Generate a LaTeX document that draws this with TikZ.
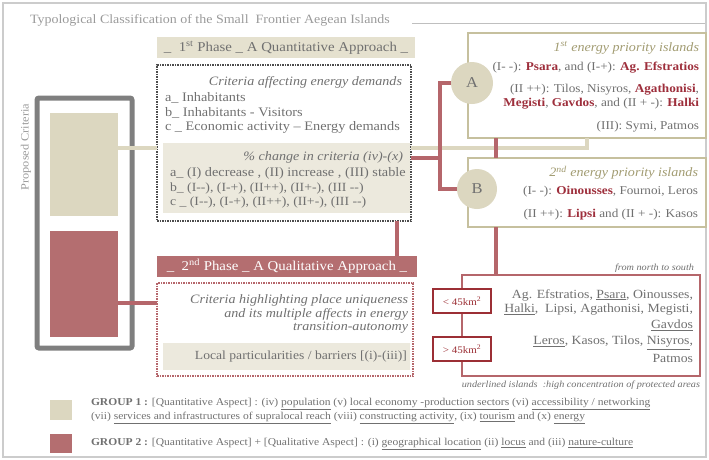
\documentclass[tikz,border=0pt]{standalone}
\usepackage{fontspec}
\setmainfont[FakeStretch=1.1]{Liberation Serif}
\definecolor{beige}{HTML}{DCD7C0}
\definecolor{beigehead}{HTML}{E5E1CF}
\definecolor{beigebox}{HTML}{ECE9DD}
\definecolor{olive}{HTML}{C6C09E}
\definecolor{olivetxt}{HTML}{A29C72}
\definecolor{redfill}{HTML}{B46E70}
\definecolor{redline}{HTML}{B5666B}
\definecolor{darkred}{HTML}{9C2F35}
\definecolor{txt}{HTML}{707070}
\definecolor{titlegray}{HTML}{9A9A9A}
\definecolor{redname}{HTML}{9E2F3C}
\definecolor{framegray}{HTML}{7F7F7F}
\newcommand\isl[1]{\textcolor{redname}{\textbf{#1}}}
\begin{document}
\begin{tikzpicture}[x=1pt,y=-1pt,
  every node/.style={inner sep=0pt,outer sep=0pt,text=txt},
  t13/.style={font=\fontsize{13}{15}\selectfont},
  t12/.style={font=\fontsize{12}{14}\selectfont},
  it13/.style={font=\fontsize{12.8}{15}\selectfont\itshape},
  it12/.style={font=\fontsize{12.8}{14}\selectfont\itshape,text=olivetxt},
  big/.style={font=\fontsize{12.5}{15}\selectfont},
  tiny/.style={font=\fontsize{9.3}{10}\selectfont\itshape},
  leg/.style={font=\fontsize{10.5}{12}\selectfont,anchor=west},
  beigeline/.style={draw=beige,line width=3.5pt},
  redconn/.style={draw=redline,line width=3.5pt},
  ibox/.style={draw=olive,line width=2pt,fill=white,anchor=north west},
  circ/.style={circle,fill=beige,minimum size=42pt,font=\fontsize{15}{15}\selectfont},
  kmbox/.style={draw=darkred,line width=2pt,fill=white,minimum width=58pt,minimum height=24pt,font=\fontsize{10}{10}\selectfont,text=darkred}
]
\useasboundingbox (0,0) rectangle (709,459);
\draw[draw=black!20,line width=1.2pt] (3,3) rectangle (706,457);
% title
\node[anchor=west,text=titlegray,font=\fontsize{12.7}{14}\selectfont] (title) at (30,20) {Typological Classification of the Small\ \ Frontier Aegean Islands};
\coordinate (tl1) at (412,23);
\coordinate (tl2) at (705,23);
\draw[black!25,line width=0.8pt] (tl1) -- (tl2);
% left column
\node[anchor=center,rotate=90,font=\fontsize{11.2}{13}\selectfont,text=titlegray] (pc) at (26,147) {Proposed Criteria};
\node[draw=framegray,line width=5pt,rounded corners=2pt,anchor=north west,minimum width=95pt,minimum height=250pt] (fr) at (37,98) {};
\node[fill=beige,anchor=north west,minimum width=68pt,minimum height=103pt] (g1) at (50,113) {};
\node[fill=redfill,anchor=north west,minimum width=68pt,minimum height=106pt] (g2) at (50,231) {};
% phase 1
\node[fill=beigehead,anchor=north west,minimum width=258pt,minimum height=21pt,font=\fontsize{13.5}{15}\selectfont] (p1) at (157,37) {\_\ \ 1\textsuperscript{st} Phase \_ A Quantitative Approach \_};
\node[draw=black!70,densely dotted,line width=1.5pt,anchor=north west,minimum width=254pt,minimum height=156pt] (d1) at (157,65) {};
\node[fill=beigebox,anchor=north west,minimum width=247pt,minimum height=70pt] (b1) at (163,143) {};
\node[it13,anchor=east] (c0) at (402,82) {Criteria affecting energy demands};
\node[t13,anchor=west] (c1) at (165,98) {a\_ Inhabitants};
\node[t13,anchor=west] (c2) at (165,113) {b\_ Inhabitants - Visitors};
\node[t13,anchor=west] (c3) at (165,127) {c \_ Economic activity -- Energy demands};
\node[it13,anchor=east] (e0) at (403,157) {\% change in criteria (iv)-(x)};
\node[t13,anchor=west] (e1) at (170,173) {a\_ (I) decrease , (II) increase , (III) stable};
\node[font=\fontsize{12.5}{15}\selectfont,anchor=west] (e2) at (170,188) {b\_ (I-{}-), (I-+), (II++), (II+-), (III -{}-)};
\node[font=\fontsize{12.5}{15}\selectfont,anchor=west] (e3) at (170,202) {c \_ (I-{}-), (I-+), (II++), (II+-), (III -{}-)};
% phase 2
\node[fill=redfill,anchor=north west,minimum width=260pt,minimum height=21pt,font=\fontsize{13.5}{15}\selectfont,text=white] (p2) at (157,256) {\_\ \ 2\textsuperscript{nd} Phase \_ A Qualitative Approach \_};
\node[draw=redline,densely dotted,line width=1.5pt,anchor=north west,minimum width=256pt,minimum height=93pt] (d2) at (157,283) {};
\node[fill=beigebox,anchor=north west,minimum width=247pt,minimum height=27pt] (b2) at (163,343) {};
\node[it13,anchor=east] (q1) at (408,300) {Criteria highlighting place uniqueness};
\node[it13,anchor=east] (q2) at (408,314) {and its multiple affects in energy};
\node[it13,anchor=east] (q3) at (408,328) {transition-autonomy};
\node[font=\fontsize{12.4}{15}\selectfont,anchor=east] (q4) at (407,357) {Local particularities / barriers [(i)-(iii)]};
% box A
\node[ibox,minimum width=238pt,minimum height=105pt] (boxA) at (468,33) {};
\node[it12,anchor=east] (a0) at (699,48) {1\textsuperscript{st} energy priority islands};
\node[t12,anchor=east] (a1) at (699,68) {(I- -): \isl{Psara}, and (I-+): \isl{Ag. Efstratios}};
\node[t12,anchor=east] (a2) at (699,90) {(II ++): Tilos, Nisyros, \isl{Agathonisi},};
\node[t12,anchor=east] (a3) at (699,104) {\isl{Megisti}, \isl{Gavdos}, and (II + -): \isl{Halki}};
\node[t12,anchor=east] (a4) at (699,127) {(III): Symi, Patmos};
\node[circ] (cA) at (472,83) {A};
% box B
\node[ibox,minimum width=238pt,minimum height=69pt] (boxB) at (468,158) {};
\node[it12,anchor=east] (b0) at (698,173) {2\textsuperscript{nd} energy priority islands};
\node[t12,anchor=east] (bb1) at (698,192) {(I- -): \isl{Oinousses}, Fournoi, Leros};
\node[t12,anchor=east] (bb2) at (698,215) {(II ++): \isl{Lipsi} and (II + -): Kasos};
\node[circ,minimum size=40pt] (cB) at (477,189) {B};
% big box
\node[tiny,anchor=east] (ns) at (694,268) {from north to south};
\node[draw=redline,line width=2pt,fill=white,anchor=north west,minimum width=238pt,minimum height=101pt] (big) at (462,275) {};
\node[big,anchor=east] (k1) at (693,295) {Ag. Efstratios, \underline{Psara}, Oinousses,};
\node[big,anchor=east] (k2) at (693,310) {\underline{Halki},\ \ Lipsi, Agathonisi, Megisti,};
\node[big,anchor=east] (k3) at (693,325) {\underline{Gavdos}};
\node[big,anchor=east] (k4) at (693,343) {\underline{Leros}, Kasos, Tilos, \underline{Nisyros},};
\node[big,anchor=east] (k5) at (693,358) {Patmos};
\node[kmbox] (s1) at (462,301) {< 45km\textsuperscript{2}};
\node[kmbox] (s2) at (462,349) {> 45km\textsuperscript{2}};
\node[tiny,anchor=east] (ul) at (700,385) {underlined islands\ \ :high concentration of protected areas};
% connectors
\draw[beigeline] ([yshift=16.5pt]g1.east) -- (d1.west |- 0,148);
\draw[beigeline] (d1.east |- 0,148) -| (boxA.south);
\draw[redconn] (g2.east |- 0,303) -- (d2.west |- 0,303);
\coordinate (jr) at (440,158);
\draw[redconn] (d1.east |- jr) -- (jr);
\draw[redconn] (cA.west) -| (jr |- cB.west) -- (cB.west);
\draw[redconn] (boxA.south -| 496,0) -- (boxB.north -| 496,0);
\draw[redconn] (d1.south -| 397,0) -- (p2.north -| 397,0);
\draw[redconn] (boxB.south -| 496,0) -- (big.north -| 496,0);
% legend
\node[fill=beige,anchor=north west,minimum width=22pt,minimum height=20pt] (lg1) at (50,400) {};
\node[fill=redfill,anchor=north west,minimum width=22pt,minimum height=19pt] (lg2) at (50,434) {};
\node[leg] (l1) at (91,404) {\textbf{GROUP 1 :} [Quantitative Aspect] : (iv) \underline{population} (v) \underline{local economy -production sectors} (vi) \underline{accessibility / networking}};
\node[leg] (l2) at (91,418) {(vii) \underline{services and infrastructures of supralocal reach} (viii) \underline{constructing activity}, (ix) \underline{tourism} and (x) \underline{energy}};
\node[leg] (l3) at (91,444) {\textbf{GROUP 2 :} [Quantitative Aspect] + [Qualitative Aspect] : (i) \underline{geographical location} (ii) \underline{locus} and (iii) \underline{nature-culture}};
\end{tikzpicture}
\end{document}
